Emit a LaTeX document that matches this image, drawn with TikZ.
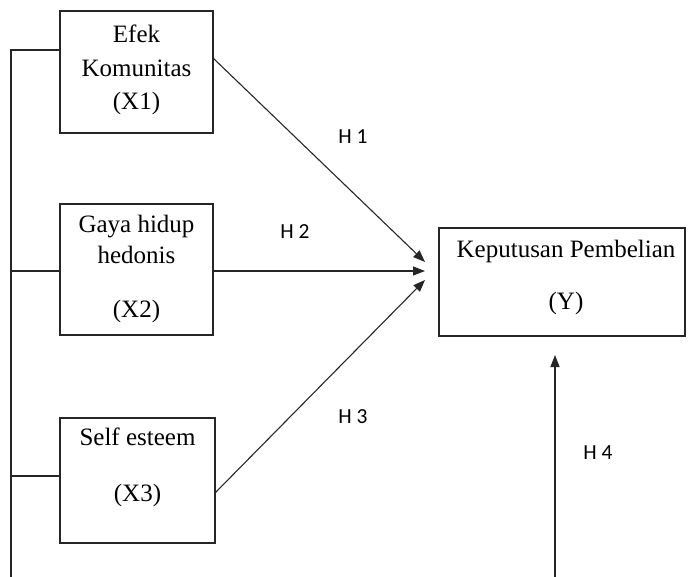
\documentclass[tikz,border=0pt]{standalone}
\usepackage{fontspec}
\setmainfont{Liberation Serif}
\newfontfamily\labfont{Carlito}
\usetikzlibrary{arrows.meta}
\tikzset{
  box/.style={draw=black!85, line width=1.1pt, rectangle, inner sep=0pt},
  btext/.style={anchor=base, inner sep=0pt, font=\fontsize{25}{30}\selectfont},
  hlab/.style={inner sep=0pt, font=\labfont\fontsize{21.5}{25}\selectfont},
  conn/.style={draw=black!85, line width=1.1pt},
  arr/.style={conn, -{Triangle[length=12pt,width=9pt]}}
}
\begin{document}
\begin{tikzpicture}[x=1pt,y=-1pt]
\useasboundingbox (0,0) rectangle (688,577);
% boxes
\node[box, minimum width=153pt, minimum height=122pt] (x1) at (136.5,72) {};
\node[box, minimum width=153pt, minimum height=131pt] (x2) at (136.5,269.5) {};
\node[box, minimum width=155pt, minimum height=125pt] (x3) at (137.5,480.5) {};
\node[box, minimum width=246pt, minimum height=108pt] (y) at (562,282) {};
% box texts
\node[btext] (t1a) at (136.5,43) {Efek};
\node[btext] (t1b) at (136.5,77) {Komunitas};
\node[btext] (t1c) at (136.5,110) {(X1)};
\node[btext] (t2a) at (136.5,233) {Gaya hidup};
\node[btext] (t2b) at (136.5,264) {hedonis};
\node[btext] (t2c) at (136.5,317) {(X2)};
\node[btext] (t3a) at (137.5,445) {Self esteem};
\node[btext] (t3b) at (137.5,501) {(X3)};
\node[btext] (tya) at (566,258) {Keputusan Pembelian};
\node[btext] (tyb) at (566,310) {(Y)};
% coordinates
\coordinate (lt) at (11,50);
\coordinate (lb) at (11,577);
\coordinate (l2) at (11,271);
\coordinate (l3) at (11,476);
\coordinate (s1) at (213,58);
\coordinate (s2) at (213,271);
\coordinate (s3) at (215,493);
\coordinate (e1) at (425,262);
\coordinate (e2) at (425,271);
\coordinate (e3) at (425,280);
\coordinate (h4s) at (555,577);
\coordinate (h4e) at (555,355);
% left bracket
\draw[conn] (lb) -- (lt) -- (x1.west |- lt);
\draw[conn] (l2) -- (x2.west |- l2);
\draw[conn] (l3) -- (x3.west |- l3);
% arrows
\draw[arr] (s1) -- (e1);
\draw[arr] (s2) -- (e2);
\draw[arr] (s3) -- (e3);
\draw[arr] (h4s) -- (h4e);
% labels
\node[hlab] (h1) at (353,137) {H 1};
\node[hlab] (h2) at (295,232) {H 2};
\node[hlab] (h3) at (353,417) {H 3};
\node[hlab] (h4) at (598,453) {H 4};
\end{tikzpicture}
\end{document}
